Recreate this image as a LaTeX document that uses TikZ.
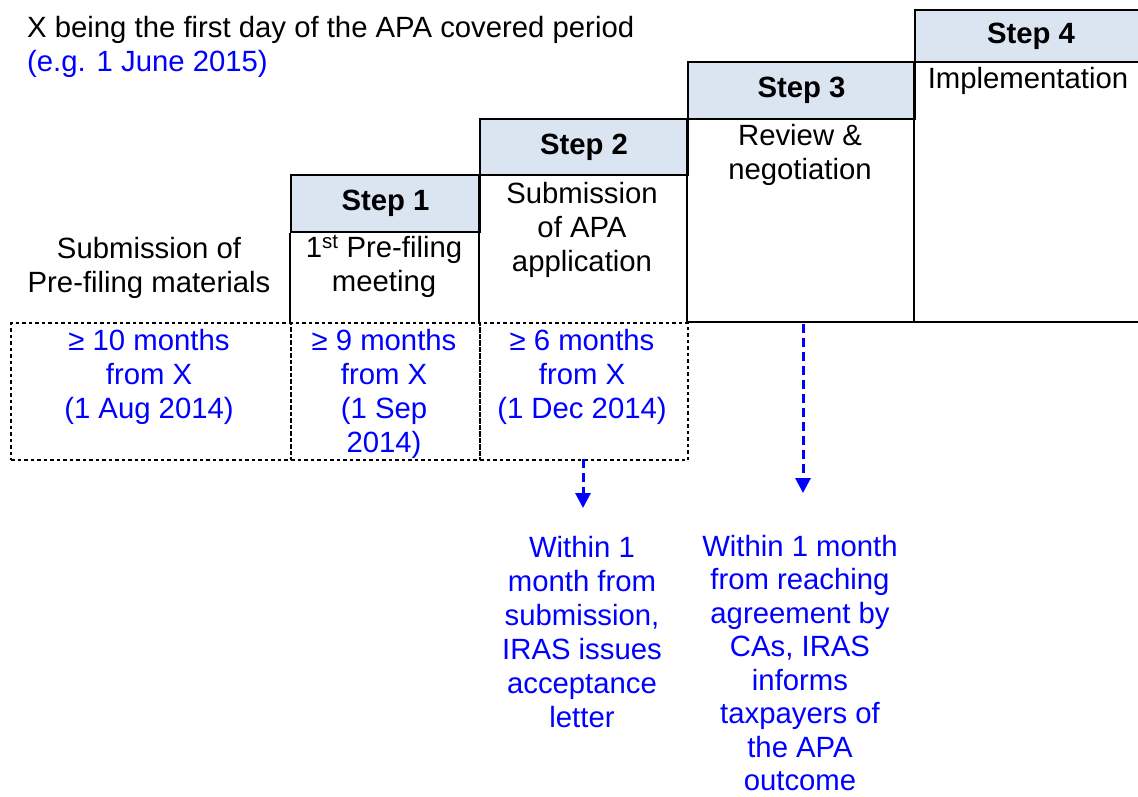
\documentclass[tikz,border=0pt]{standalone}
\usepackage{fontspec}
\setmainfont{Liberation Sans}
\usetikzlibrary{arrows.meta}
\definecolor{hdrc}{HTML}{DBE5F1}
\definecolor{tblue}{HTML}{0000FF}
\begin{document}
\begin{tikzpicture}[x=1pt,y=-1pt,
  every node/.style={font=\fontsize{29.3}{34}\selectfont, inner sep=0pt},
  hdr/.style={draw=black, line width=2pt, fill=hdrc, anchor=north west,
    font=\fontsize{29.3}{34}\selectfont\bfseries},
  frame/.style={draw=black, line width=2pt},
  cell/.style={draw=black, line width=2pt, dash pattern=on 3.5pt off 3pt, anchor=north west},
  txt/.style={align=center, anchor=north},
  btxt/.style={align=center, anchor=north, text=tblue},
  barrow/.style={draw=tblue, line width=3pt, dash pattern=on 9pt off 5pt,
    -{Triangle[width=15pt,length=15pt]}}
]
\useasboundingbox (0,0) rectangle (1138,796);

% title
\node[anchor=north west, align=left] (title) at (27,16)
  {X being the first day of the APA covered period\\\textcolor{tblue}{(e.g. 1 June 2015)}};

% step headers
\node[hdr, minimum width=189pt, minimum height=57pt] (h1) at (290,174) {Step 1};
\node[hdr, minimum width=208pt, minimum height=56pt] (h2) at (479,118) {Step 2};
\node[hdr, minimum width=227pt, minimum height=57pt] (h3) at (687,61) {Step 3};
\node[hdr, minimum width=232pt, minimum height=52pt] (h4) at (914,9) {Step 4};

% step bodies
\coordinate (b1l) at (290,322);
\coordinate (b2l) at (479,322);
\coordinate (b3l) at (687,322);
\coordinate (b4l) at (914,322);
\coordinate (b4r) at (1140,322);
\draw[frame] (h1.south west) -- (b1l);
\draw[frame] (h2.south west) -- (b2l);
\draw[frame] (h3.south west) -- (b3l);
\draw[frame] (h4.south west) -- (b4l);
\draw[frame] (b3l) -- (b4r);

% dotted cells
\node[cell, minimum width=280pt, minimum height=137pt] (c1) at (10,322) {};
\node[cell, minimum width=189pt, minimum height=137pt] (c2) at (290,322) {};
\node[cell, minimum width=208pt, minimum height=137pt] (c3) at (479,322) {};

% texts
\node[txt] (t0) at (149,237) {Submission of\\Pre-filing materials};
\node[txt] (t1) at (384,235) {1\textsuperscript{st} Pre-filing\\meeting};
\node[txt] (t2) at (582,182) {Submission\\of APA\\application};
\node[txt] (t3) at (800,124) {Review \&\\negotiation};
\node[txt] (t4) at (1028,67) {Implementation};

\node[btxt] (d1) at (149,329) {≥ 10 months\\from X\\(1 Aug 2014)};
\node[btxt] (d2) at (384,329) {≥ 9 months\\from X\\(1 Sep\\2014)};
\node[btxt] (d3) at (582,329) {≥ 6 months\\from X\\(1 Dec 2014)};

% arrows
\coordinate (a1s) at (583,459);
\coordinate (a1e) at (583,508);
\coordinate (a2s) at (803,324);
\coordinate (a2e) at (803,493);
\draw[barrow] (a1s) -- (a1e);
\draw[barrow] (a2s) -- (a2e);

\node[btxt] (n1) at (582,536) {Within 1\\month from\\submission,\\IRAS issues\\acceptance\\letter};
\node[btxt, font=\fontsize{29.3}{33.5}\selectfont] (n2) at (800,535) {Within 1 month\\from reaching\\agreement by\\CAs, IRAS\\informs\\taxpayers of\\the APA\\outcome};
\end{tikzpicture}
\end{document}
